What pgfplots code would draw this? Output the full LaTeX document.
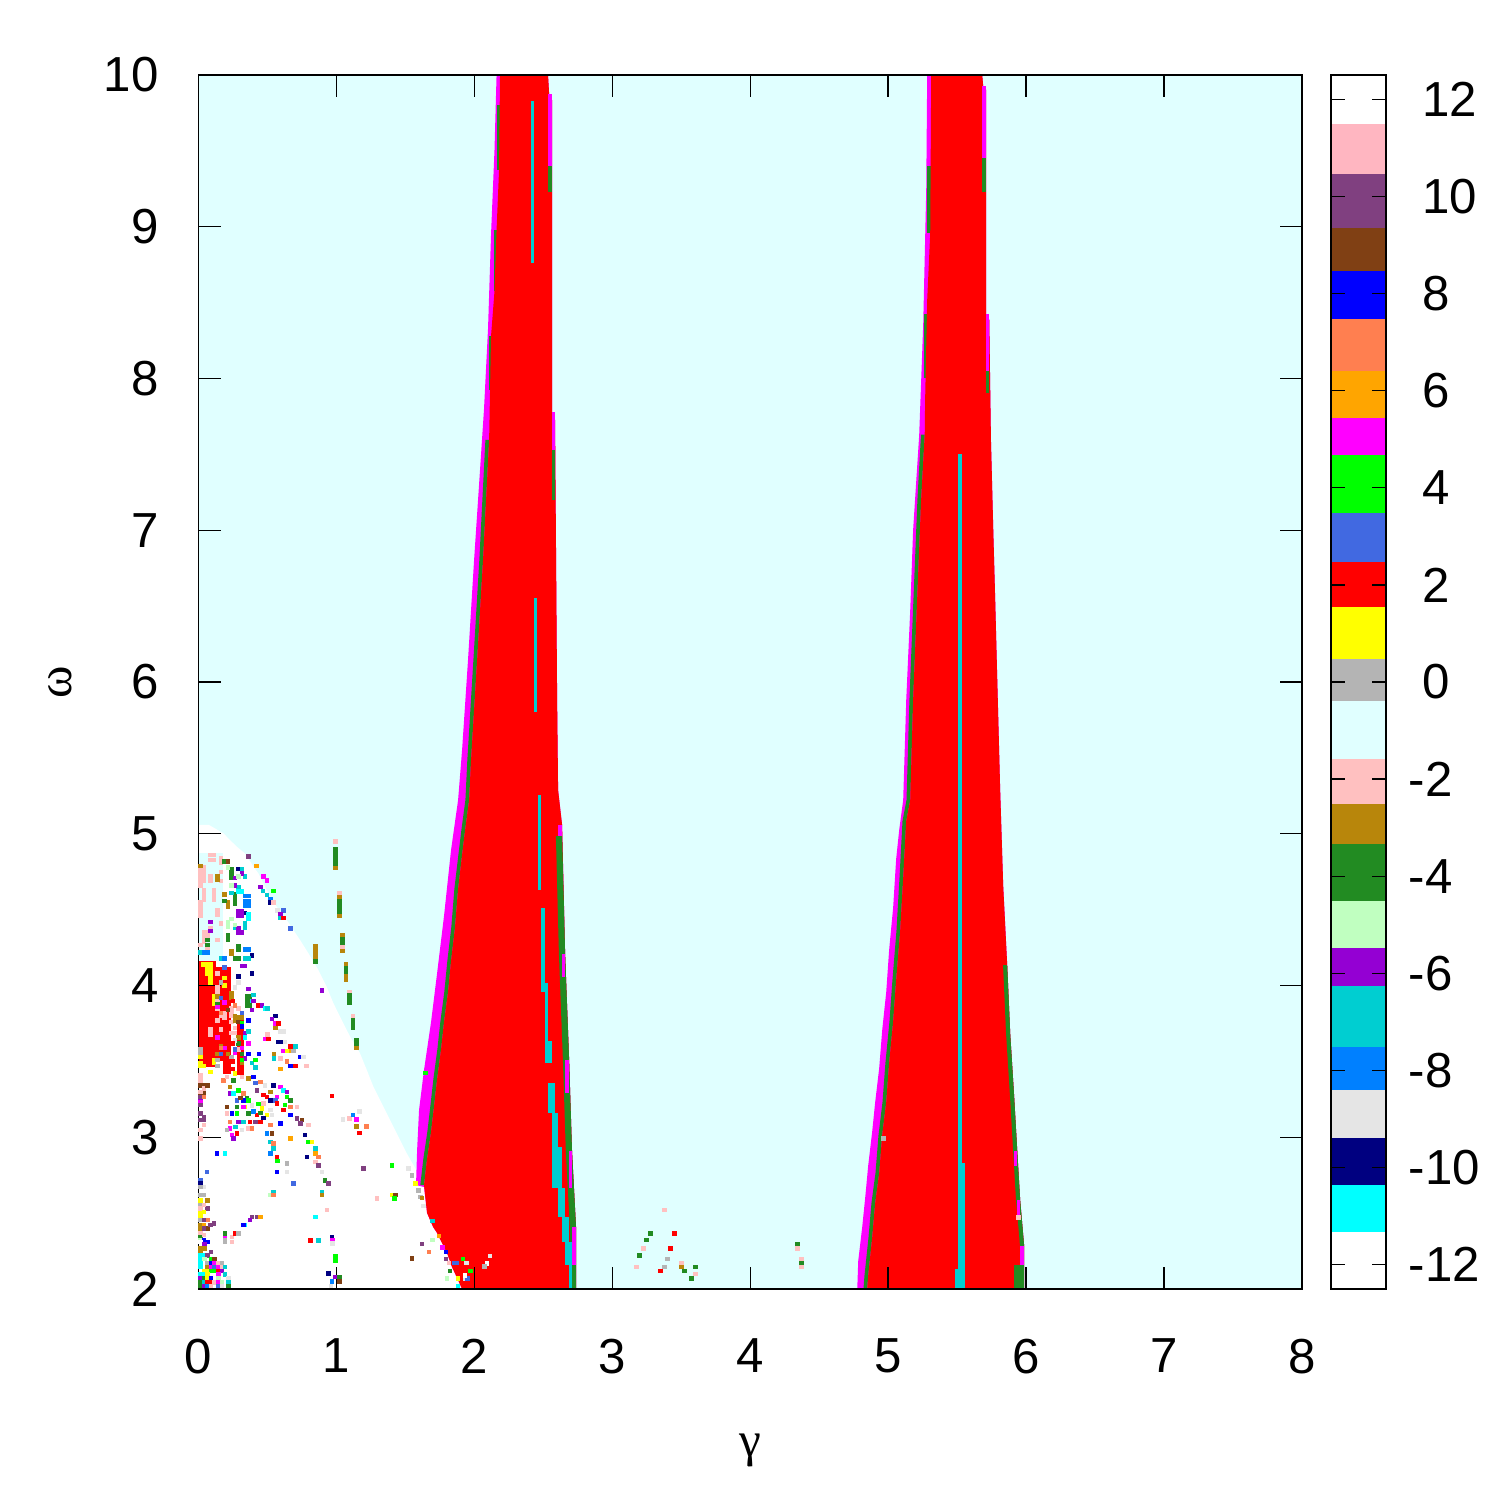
\documentclass[border=0pt]{standalone}
\usepackage{pgfplots}
\pgfplotsset{compat=1.18}
\usepackage{fontspec}
\setmainfont{Liberation Sans}
\newfontfamily\symfont{Liberation Serif}
\definecolor{cW}{HTML}{FFFFFF}
\definecolor{cP}{HTML}{FFB6C1}
\definecolor{cU}{HTML}{804080}
\definecolor{cB}{HTML}{804014}
\definecolor{cb}{HTML}{0000FF}
\definecolor{cK}{HTML}{FF7F50}
\definecolor{cO}{HTML}{FFA500}
\definecolor{cM}{HTML}{FF00FF}
\definecolor{cG}{HTML}{00FF00}
\definecolor{cR}{HTML}{4169E1}
\definecolor{cr}{HTML}{FF0000}
\definecolor{cY}{HTML}{FFFF00}
\definecolor{cg}{HTML}{B4B4B4}
\definecolor{cc}{HTML}{E0FFFF}
\definecolor{cp}{HTML}{FFC0C0}
\definecolor{cd}{HTML}{B8860B}
\definecolor{cf}{HTML}{228B22}
\definecolor{cl}{HTML}{C0FFC0}
\definecolor{cv}{HTML}{9400D3}
\definecolor{ct}{HTML}{00CED1}
\definecolor{cD}{HTML}{0080FF}
\definecolor{cL}{HTML}{E5E5E5}
\definecolor{cN}{HTML}{000080}
\definecolor{cC}{HTML}{00FFFF}
% rectangle through the axis: colour, x1, y1, x2, y2
\newcommand\rect[5]{\addplot[fill=#1,draw=none] coordinates {(#2,#3) (#4,#3) (#4,#5) (#2,#5)} -- cycle;}
\newcommand\cbar[3]{\addplot[fill=#1,draw=none] coordinates {(0,#2) (1,#2) (1,#3) (0,#3)} -- cycle;}
\newcommand\lbl{\fontsize{14pt}{16pt}\selectfont}
\begin{document}
\begin{tikzpicture}
\path[use as bounding box] (0,0) rectangle (15cm,15cm);
\begin{axis}[
  at={(1.985cm,2.11cm)}, anchor=south west,
  scale only axis, width=11.035cm, height=12.14cm,
  xmin=0, xmax=8, ymin=2, ymax=10,
  xtick={0,...,8}, xticklabels={0,1,2,3,4,5,6,7,8},
  ytick={2,...,10}, yticklabels={2,3,4,5,6,7,8,9,10},
  tick align=inside, major tick length=0.22cm,
  axis background/.style={fill=cc},
  axis on top,
  axis line style={line width=0.4pt},
  tick style={black, line width=0.4pt},
  xticklabel style={font=\lbl, yshift=-0.375cm},
  yticklabel style={font=\lbl, xshift=-0.276cm},
]
% white wedge
\addplot[fill=white,draw=none] coordinates {(0,2.0) (0,5.058) (0.076,5.058) (0.180,5.003) (0.228,4.959) (0.277,4.915) (0.337,4.871) (0.398,4.783) (0.434,4.739) (0.482,4.651) (0.531,4.563) (0.639,4.432) (0.736,4.300) (0.797,4.212) (0.869,4.102) (0.929,3.992) (0.978,3.883) (1.038,3.773) (1.099,3.663) (1.171,3.553) (1.220,3.443) (1.268,3.333) (1.328,3.224) (1.389,3.114) (1.449,3.004) (1.510,2.894) (1.60,2.75) (1.75,2.40) (1.95,2.0)} -- cycle;
\rect{cc}{0}{4.16}{0.175}{4.87}
% red block lower left
\rect{cr}{0}{3.46}{0.125}{4.16}
\rect{cr}{0.125}{3.50}{0.18}{4.12}
\rect{cr}{0.18}{3.42}{0.235}{4.12}
\rect{cr}{0.277}{3.41}{0.33}{3.78}
% ---------- band 1 ----------
\addplot[fill=cM,draw=none] coordinates {(2.161,10) (2.146,9.506) (2.121,8.952) (2.099,8.326) (2.070,7.799) (2.041,7.397) (1.998,6.804) (1.954,6.145) (1.911,5.552) (1.882,5.222) (1.831,4.893) (1.780,4.458) (1.730,4.082) (1.686,3.759) (1.635,3.443) (1.599,3.180) (1.585,2.916) (1.577,2.685) (1.635,2.672) (1.657,2.501) (1.701,2.409) (1.730,2.369) (1.766,2.303) (1.802,2.237) (1.838,2.145) (1.882,2.059) (1.911,2.0) (2.737,2.0) (2.737,2.409) (2.708,2.909) (2.687,3.509) (2.658,4.208) (2.636,5.058) (2.607,5.288) (2.600,5.881) (2.585,7.727) (2.563,7.779) (2.563,9.835) (2.542,9.875) (2.534,10)} -- cycle;
\addplot[fill=cf,draw=none] coordinates {(2.080,7.595) (2.036,6.804) (1.993,6.145) (1.949,5.486) (1.935,5.222) (1.906,5.025) (1.884,4.860) (1.855,4.636) (1.833,4.386) (1.804,4.161) (1.782,3.957) (1.753,3.759) (1.732,3.582) (1.703,3.384) (1.681,3.206) (1.659,3.035) (1.630,2.857) (1.608,2.685) (1.635,2.685) (1.657,2.857) (1.686,3.035) (1.708,3.206) (1.730,3.384) (1.759,3.582) (1.780,3.759) (1.809,3.957) (1.831,4.161) (1.860,4.386) (1.882,4.636) (1.911,4.860) (1.933,5.025) (1.962,5.222) (1.976,5.486) (2.020,6.145) (2.063,6.804) (2.107,7.595)} -- cycle;
\rect{cf}{2.161}{9.374}{2.186}{9.802}
\rect{cf}{2.139}{8.577}{2.161}{8.979}
\rect{cf}{2.107}{7.924}{2.139}{8.280}
\addplot[fill=cr,draw=none] coordinates {(2.186,10) (2.179,9.374) (2.161,8.979) (2.146,8.577) (2.121,8.280) (2.107,7.595) (2.063,6.804) (2.020,6.145) (1.976,5.486) (1.962,5.222) (1.933,5.025) (1.911,4.860) (1.882,4.636) (1.860,4.386) (1.831,4.161) (1.809,3.957) (1.780,3.759) (1.759,3.582) (1.730,3.384) (1.708,3.206) (1.686,3.035) (1.657,2.857) (1.635,2.685) (1.657,2.501) (1.701,2.409) (1.730,2.369) (1.766,2.303) (1.802,2.237) (1.838,2.145) (1.882,2.059) (1.911,2.0) (2.737,2.0) (2.737,2.409) (2.708,2.909) (2.687,3.509) (2.658,4.208) (2.636,5.058) (2.607,5.288) (2.600,5.881) (2.585,7.727) (2.563,7.779) (2.563,9.835) (2.542,9.875) (2.534,10)} -- cycle;
\rect{cM}{2.534}{9.400}{2.563}{9.875}
\rect{cf}{2.534}{9.229}{2.563}{9.400}
\rect{cM}{2.563}{7.529}{2.585}{7.779}
\rect{cf}{2.563}{7.200}{2.585}{7.529}
\addplot[fill=cf,draw=none] coordinates {(2.591,4.985) (2.613,4.208) (2.642,3.509) (2.663,2.909) (2.692,2.409) (2.692,2.0) (2.737,2.0) (2.737,2.409) (2.708,2.909) (2.687,3.509) (2.658,4.208) (2.636,4.985)} -- cycle;
\rect{cf}{2.607}{4.741}{2.636}{4.985}
\rect{cM}{2.607}{4.985}{2.636}{5.058}
\rect{cM}{2.636}{4.057}{2.658}{4.208}
\rect{cM}{2.658}{3.292}{2.687}{3.509}
\rect{cM}{2.687}{2.666}{2.708}{2.909}
\rect{cM}{2.708}{2.158}{2.737}{2.409}
% turquoise inside band 1
\rect{ct}{2.411}{8.761}{2.433}{9.829}
\rect{ct}{2.433}{5.802}{2.455}{6.554}
\rect{ct}{2.462}{4.629}{2.484}{5.255}
\rect{ct}{2.484}{3.957}{2.513}{4.511}
\rect{ct}{2.513}{3.634}{2.534}{4.016}
\rect{ct}{2.513}{3.489}{2.563}{3.634}
\rect{ct}{2.534}{3.160}{2.585}{3.357}
\rect{ct}{2.563}{2.666}{2.607}{3.160}
\rect{ct}{2.585}{2.666}{2.636}{2.936}
\rect{ct}{2.607}{2.474}{2.658}{2.666}
\rect{ct}{2.636}{2.310}{2.687}{2.474}
\rect{ct}{2.658}{2.158}{2.708}{2.310}
\rect{ct}{2.687}{2.0}{2.708}{2.158}
% ---------- band 2 ----------
\addplot[fill=cM,draw=none] coordinates {(5.283,10) (5.276,9.242) (5.254,8.353) (5.225,7.628) (5.181,7.002) (5.160,6.474) (5.131,5.881) (5.109,5.222) (5.080,5.025) (5.058,4.834) (5.036,4.511) (5.007,4.234) (4.986,3.957) (4.957,3.707) (4.935,3.456) (4.906,3.232) (4.884,3.035) (4.855,2.811) (4.834,2.606) (4.812,2.409) (4.783,2.185) (4.776,2.0) (5.986,2.0) (5.986,2.283) (5.957,2.586) (5.936,2.909) (5.914,3.259) (5.885,3.680) (5.863,4.135) (5.834,4.656) (5.812,5.288) (5.791,6.013) (5.776,6.540) (5.762,7.0) (5.745,7.6) (5.733,8.386) (5.711,8.425) (5.711,9.901) (5.689,9.927) (5.682,10)} -- cycle;
\addplot[fill=cf,draw=none] coordinates {(5.238,7.63) (5.212,7.199) (5.183,6.540) (5.154,5.881) (5.133,5.222) (5.104,5.084) (5.082,4.708) (5.060,4.359) (5.031,4.036) (5.009,3.759) (4.980,3.489) (4.959,3.232) (4.930,3.015) (4.908,2.764) (4.879,2.567) (4.857,2.336) (4.828,2.086) (4.821,2.0) (4.848,2.0) (4.855,2.086) (4.884,2.336) (4.906,2.567) (4.935,2.764) (4.957,3.015) (4.986,3.232) (5.007,3.489) (5.036,3.759) (5.058,4.036) (5.087,4.359) (5.109,4.708) (5.131,5.084) (5.160,5.222) (5.181,5.881) (5.210,6.540) (5.239,7.199) (5.265,7.63)} -- cycle;
\rect{cf}{5.283}{8.959}{5.312}{9.400}
\rect{cf}{5.261}{8.003}{5.283}{8.425}
\addplot[fill=cr,draw=none] coordinates {(5.312,10) (5.305,8.959) (5.283,8.517) (5.268,7.858) (5.265,7.63) (5.239,7.199) (5.210,6.540) (5.181,5.881) (5.160,5.222) (5.131,5.084) (5.109,4.708) (5.087,4.359) (5.058,4.036) (5.036,3.759) (5.007,3.489) (4.986,3.232) (4.957,3.015) (4.935,2.764) (4.906,2.567) (4.884,2.336) (4.855,2.086) (4.848,2.0) (5.986,2.0) (5.986,2.283) (5.957,2.586) (5.936,2.909) (5.914,3.259) (5.885,3.680) (5.863,4.135) (5.834,4.656) (5.812,5.288) (5.791,6.013) (5.776,6.540) (5.762,7.0) (5.745,7.6) (5.733,8.386) (5.711,8.425) (5.711,9.901) (5.689,9.927) (5.682,10)} -- cycle;
\rect{cM}{5.682}{9.453}{5.711}{9.927}
\rect{cf}{5.682}{9.229}{5.711}{9.453}
\rect{cM}{5.711}{8.049}{5.733}{8.425}
\rect{cf}{5.711}{7.904}{5.733}{8.049}
\addplot[fill=cf,draw=none] coordinates {(5.833,4.135) (5.855,3.680) (5.884,3.259) (5.906,2.909) (5.927,2.586) (5.956,2.283) (5.956,2.158) (5.914,2.158) (5.914,2.0) (5.986,2.0) (5.986,2.283) (5.957,2.586) (5.936,2.909) (5.914,3.259) (5.885,3.680) (5.863,4.135)} -- cycle;
\rect{cM}{5.914}{2.811}{5.936}{2.909}
\rect{cM}{5.936}{2.461}{5.957}{2.586}
\rect{cM}{5.957}{2.158}{5.986}{2.283}
\rect{ct}{5.508}{2.830}{5.537}{7.502}
\rect{ct}{5.508}{2.0}{5.559}{2.830}
\rect{ct}{5.486}{2.0}{5.508}{2.132}
% ---------- scattered cells ----------
\addplot[scatter, only marks, scatter src=explicit symbolic, mark size=0.5pt,
  mark options={line width=0.15pt},
  scatter/classes={W={mark=square*,cW}, P={mark=square*,cP}, U={mark=square*,cU}, B={mark=square*,cB}, b={mark=square*,cb}, K={mark=square*,cK}, O={mark=square*,cO}, M={mark=square*,cM}, G={mark=square*,cG}, R={mark=square*,cR}, r={mark=square*,cr}, Y={mark=square*,cY}, g={mark=square*,cg}, c={mark=square*,cc}, p={mark=square*,cp}, d={mark=square*,cd}, f={mark=square*,cf}, l={mark=square*,cl}, v={mark=square*,cv}, t={mark=square*,ct}, D={mark=square*,cD}, L={mark=square*,cL}, N={mark=square*,cN}, C={mark=square*,cC}}]
table[meta=c] {
x y c
0.012 4.78 p
0.012 4.75 p
0.012 4.72 p
0.012 4.69 p
0.012 4.66 p
0.012 4.55 p
0.012 4.52 p
0.012 4.49 p
0.012 4.46 p
0.037 4.78 p
0.037 4.75 p
0.037 4.72 p
0.037 4.69 p
0.037 4.63 p
0.037 4.60 p
0.037 4.57 p
0.037 4.35 p
0.037 4.32 p
0.037 4.29 p
0.062 4.35 p
0.062 4.32 p
0.087 4.86 p
0.087 4.83 p
0.087 4.72 p
0.087 4.69 p
0.112 4.86 p
0.112 4.83 p
0.112 4.63 p
0.112 4.60 p
0.112 4.57 p
0.137 4.50 p
0.137 4.47 p
0.162 4.75 p
0.162 4.69 p
0.162 4.41 p
0.137 4.30 p
0.087 4.38 p
0.062 4.24 p
0.012 4.27 p
0.162 4.84 p
0.162 4.81 p
0.012 4.79 d
0.137 4.72 d
0.137 4.70 d
0.187 4.60 d
0.212 4.55 d
0.212 4.52 d
0.237 4.23 d
0.237 4.21 d
0.187 4.82 f
0.237 4.77 f
0.237 4.74 f
0.237 4.71 f
0.062 4.30 f
0.062 4.27 f
0.187 4.56 f
0.262 4.60 f
0.262 4.57 f
0.262 4.54 f
0.212 4.33 f
0.212 4.30 f
0.287 4.26 f
0.287 4.24 f
0.262 4.18 f
0.287 4.18 f
0.212 4.82 B
0.287 4.77 N
0.337 4.48 N
0.387 4.20 N
0.387 4.08 N
0.287 4.06 N
0.312 4.77 t
0.337 4.72 t
0.237 4.61 t
0.287 4.65 t
0.337 4.41 t
0.337 4.38 t
0.012 4.22 t
0.162 4.18 t
0.337 4.18 t
0.362 4.18 t
0.262 4.38 t
0.262 4.71 v
0.312 4.74 v
0.262 4.66 v
0.287 4.49 v
0.312 4.49 v
0.287 4.46 v
0.312 4.46 v
0.287 4.38 v
0.287 4.35 v
0.312 4.35 v
0.087 4.42 v
0.087 4.36 v
0.312 4.13 v
0.337 4.13 v
0.212 4.78 l
0.287 4.72 l
0.237 4.66 l
0.212 4.42 l
0.212 4.39 l
0.237 4.44 l
0.262 4.40 l
0.337 4.59 D
0.362 4.59 D
0.337 4.56 D
0.362 4.56 D
0.337 4.53 D
0.362 4.53 D
0.337 4.24 D
0.362 4.24 D
0.037 4.22 D
0.062 4.22 D
0.187 4.18 D
0.287 4.62 C
0.312 4.62 C
0.362 4.47 C
0.362 4.44 C
0.187 4.12 R
0.361 4.85 U
0.417 4.79 O
0.470 4.72 M
0.494 4.695 M
0.446 4.65 v
0.465 4.625 t
0.543 4.625 G
0.494 4.597 t
0.519 4.57 D
0.519 4.55 N
0.543 4.55 p
0.572 4.497 L
0.615 4.497 R
0.591 4.47 v
0.591 4.447 t
0.615 4.447 r
0.664 4.377 R
0.893 3.97 v
0.035 4.14 Y
0.06 4.14 Y
0.085 4.14 Y
0.06 4.11 Y
0.085 4.11 Y
0.06 4.08 Y
0.085 4.08 Y
0.085 4.05 Y
0.085 4.02 Y
0.11 3.93 Y
0.11 3.90 Y
0.11 3.88 Y
0.012 3.49 Y
0.012 3.47 Y
0.037 3.47 Y
0.11 3.51 Y
0.11 3.49 Y
0.187 4.05 Y
0.187 4.00 Y
0.262 3.42 Y
0.087 3.43 Y
0.012 3.53 Y
0.012 3.58 g
0.012 3.56 g
0.137 3.47 g
0.137 3.51 g
0.237 3.53 g
0.162 4.02 g
0.137 4.08 p
0.137 3.99 p
0.137 3.96 p
0.137 3.90 p
0.137 3.85 p
0.162 3.80 p
0.137 3.77 p
0.162 3.71 p
0.187 3.82 p
0.187 3.79 p
0.237 3.85 p
0.237 3.82 p
0.237 3.80 p
0.237 3.76 p
0.237 3.69 p
0.262 3.72 p
0.262 3.69 p
0.287 3.85 p
0.287 3.58 p
0.087 3.71 p
0.087 3.68 p
0.012 3.37 p
0.012 3.41 p
0.137 3.93 d
0.237 3.95 d
0.237 3.92 d
0.262 3.80 d
0.287 3.79 d
0.312 3.79 d
0.262 3.77 d
0.162 3.60 d
0.212 3.55 d
0.287 3.66 d
0.312 3.49 d
0.137 3.55 d
0.349 3.93 f
0.373 3.93 f
0.349 3.90 f
0.373 3.90 f
0.349 3.87 f
0.373 3.87 f
0.287 3.62 f
0.312 3.55 f
0.137 3.88 f
0.187 3.89 M
0.137 3.86 M
0.137 3.66 M
0.187 3.59 M
0.312 3.59 M
0.262 3.56 M
0.362 3.62 M
0.162 3.82 K
0.162 3.59 K
0.262 3.87 K
0.162 3.92 R
0.262 3.58 R
0.162 3.55 R
0.312 3.82 R
0.262 3.99 L
0.287 4.02 L
0.262 3.64 L
0.212 3.84 B
0.287 3.76 B
0.012 3.29 B
0.037 3.29 B
0.362 3.98 v
0.387 3.84 v
0.337 3.69 v
0.337 3.52 v
0.012 3.26 v
0.398 3.94 t
0.362 3.70 t
0.387 3.49 t
0.412 3.46 t
0.387 3.90 C
0.337 3.66 C
0.312 3.75 G
0.412 3.51 G
0.312 3.51 G
0.362 3.77 b
0.312 3.73 b
0.437 3.55 b
0.362 3.55 b
0.25 3.90 r
0.25 3.62 r
0.25 3.50 r
0.25 3.45 r
0.398 3.90 v
0.434 3.87 r
0.458 3.87 v
0.482 3.85 C
0.50 3.85 t
0.555 3.80 N
0.531 3.78 v
0.555 3.75 M
0.579 3.75 r
0.555 3.72 d
0.591 3.70 L
0.615 3.70 L
0.50 3.68 p
0.482 3.65 M
0.506 3.65 r
0.579 3.63 N
0.603 3.63 N
0.627 3.63 L
0.700 3.60 t
0.664 3.60 r
0.664 3.57 O
0.615 3.57 M
0.688 3.57 g
0.640 3.57 Y
0.736 3.53 b
0.76 3.53 L
0.78 3.47 p
0.70 3.47 r
0.664 3.47 b
0.591 3.45 O
0.544 3.55 d
0.544 3.52 t
0.591 3.52 p
0.640 3.50 K
0.180 3.377 K
0.253 3.377 f
0.313 3.399 p
0.361 3.388 d
0.398 3.399 b
0.446 3.366 K
0.482 3.344 L
0.543 3.344 N
0.591 3.333 M
0.615 3.311 C
0.639 3.300 v
0.519 3.300 d
0.494 3.267 r
0.567 3.267 M
0.639 3.267 G
0.664 3.245 f
0.519 3.245 N
0.555 3.245 R
0.228 3.333 d
0.289 3.311 G
0.325 3.289 K
0.349 3.256 f
0.277 3.245 R
0.325 3.245 b
0.361 3.245 G
0.422 3.311 U
0.470 3.224 p
0.567 3.224 r
0.627 3.213 G
0.664 3.202 K
0.712 3.202 p
0.204 3.202 B
0.277 3.202 f
0.337 3.202 Y
0.458 3.191 Y
0.519 3.180 L
0.615 3.180 r
0.204 3.158 p
0.240 3.158 b
0.277 3.158 G
0.361 3.158 f
0.422 3.147 r
0.494 3.147 Y
0.531 3.147 L
0.664 3.147 b
0.712 3.125 U
0.748 3.114 B
0.228 3.103 K
0.289 3.103 v
0.325 3.103 t
0.373 3.103 r
0.410 3.103 U
0.446 3.103 r
0.519 3.081 K
0.591 3.092 b
0.736 3.092 U
0.797 3.081 p
0.772 3.015 N
0.494 3.026 D
0.531 3.026 B
0.664 2.993 O
0.519 2.971 t
0.240 3.015 M
0.277 3.026 r
0.253 2.993 v
0.797 2.971 G
0.821 2.971 Y
0.845 2.927 t
0.845 2.894 O
0.543 2.927 t
0.567 2.872 r
0.572 2.846 G
0.784 2.872 N
0.869 2.872 K
0.639 2.828 g
0.845 2.839 p
0.869 2.817 U
1.401 2.817 G
1.195 2.795 U
1.522 2.795 L
1.546 2.751 g
0.567 2.773 b
0.639 2.773 L
0.893 2.773 L
0.059 2.773 R
0.688 2.696 R
0.917 2.718 f
0.942 2.696 U
0.893 2.641 t
0.893 2.620 d
0.543 2.641 t
0.519 2.620 l
0.543 2.620 K
1.292 2.597 p
1.401 2.620 Y
1.425 2.620 B
1.418 2.597 G
1.606 2.608 g
0.929 2.521 p
0.422 2.477 U
0.386 2.477 U
0.446 2.477 O
0.373 2.455 v
0.337 2.422 C
0.325 2.422 b
0.845 2.477 C
0.809 2.323 r
0.869 2.323 t
0.966 2.345 N
0.966 2.323 M
0.966 2.297 L
0.990 2.213 G
0.990 2.191 G
1.546 2.202 B
0.942 2.103 N
0.192 2.345 M
0.240 2.345 p
0.192 2.323 g
0.265 2.367 r
0.289 2.367 g
0.192 2.367 f
0.132 2.894 b
0.192 2.894 C
0.519 2.894 D
0.543 2.960 K
0.966 3.272 r
1.094 3.125 p
1.166 3.03 r
1.166 3.17 L
1.118 3.147 D
1.142 3.12 M
1.142 3.074 d
1.215 3.074 K
1.045 3.12 L
0.204 3.40 p
0.228 3.29 v
0.253 3.29 C
0.301 3.26 B
0.325 3.20 M
0.386 3.21 L
0.398 3.17 D
0.446 3.16 f
0.470 3.13 N
0.361 3.06 p
0.386 3.06 K
0.313 3.05 L
0.265 3.07 t
0.228 3.06 M
0.204 3.05 g
0.470 3.28 r
0.434 3.22 G
0.410 3.36 R
0.062 2.586 d
0.062 2.532 U
0.037 2.620 g
0.037 2.674 L
0.062 2.455 K
0.062 2.400 B
0.087 2.422 U
0.112 2.433 U
0.012 3.399 p
0.012 3.344 B
0.012 3.300 p
0.012 3.267 U
0.012 3.235 M
0.012 3.213 U
0.012 3.158 U
0.012 3.114 U
0.012 3.048 p
0.012 2.993 p
0.012 2.718 R
0.012 2.696 N
0.012 2.674 g
0.012 2.620 g
0.012 2.586 Y
0.012 2.554 g
0.012 2.532 p
0.012 2.499 Y
0.012 2.477 Y
0.012 2.455 g
0.012 2.422 d
0.012 2.400 d
0.012 2.367 p
0.012 2.345 f
0.012 2.323 l
0.037 3.344 B
0.037 3.322 p
0.037 3.267 K
0.037 3.136 U
0.037 3.114 U
0.037 3.081 p
0.037 2.554 p
0.037 2.510 Y
0.037 2.455 U
0.037 2.422 O
0.037 2.400 U
0.037 2.356 p
0.037 2.323 b
0.062 3.344 B
0.011 2.312 W
0.064 2.312 b
0.192 2.312 g
0.240 2.312 p
0.040 2.297 v
0.011 2.268 d
0.040 2.268 d
0.088 2.246 U
0.011 2.246 d
0.011 2.224 C
0.040 2.224 C
0.064 2.224 U
0.011 2.198 C
0.040 2.198 l
0.088 2.198 G
0.115 2.198 B
0.011 2.174 C
0.064 2.174 g
0.088 2.174 b
0.115 2.174 M
0.144 2.174 p
0.168 2.174 g
0.011 2.147 C
0.064 2.147 d
0.088 2.147 M
0.115 2.147 R
0.144 2.147 M
0.168 2.147 p
0.192 2.147 t
0.040 2.121 Y
0.064 2.121 Y
0.088 2.121 G
0.115 2.121 G
0.144 2.121 r
0.168 2.121 v
0.011 2.097 C
0.040 2.097 C
0.064 2.097 Y
0.144 2.097 M
0.192 2.097 t
0.011 2.072 v
0.040 2.072 f
0.064 2.072 Y
0.088 2.072 b
0.144 2.072 l
0.216 2.072 L
0.011 2.046 f
0.040 2.046 t
0.064 2.046 r
0.088 2.046 r
0.115 2.046 p
0.144 2.046 M
0.168 2.046 l
0.216 2.046 t
0.011 2.020 f
0.040 2.020 v
0.064 2.020 D
0.088 2.020 p
0.144 2.020 R
0.216 2.020 f
0.168 2.020 L
0.94 2.10 N
0.966 2.05 D
0.99 2.08 v
1.02 2.08 f
1.02 2.05 B
0.96 2.02 L
0.99 2.20 G
0.99 2.22 G
0.81 2.32 r
0.87 2.32 t
0.97 2.32 M
0.97 2.30 L
0.845 4.26 d
0.845 4.24 d
0.845 4.21 d
0.845 4.19 d
0.845 4.16 f
0.99 4.95 p
0.99 4.90 f
0.99 4.875 f
0.99 4.85 f
0.99 4.825 f
0.99 4.80 f
0.99 4.775 d
1.019 4.61 p
1.019 4.585 d
1.019 4.56 f
1.019 4.535 f
1.019 4.51 f
1.019 4.485 f
1.019 4.46 d
1.043 4.33 d
1.043 4.305 f
1.043 4.28 f
1.043 4.255 p
1.043 4.23 d
1.067 4.14 d
1.067 4.115 f
1.067 4.09 f
1.067 4.065 d
1.067 4.04 d
1.094 3.96 p
1.094 3.935 f
1.094 3.91 f
1.094 3.885 f
1.118 3.80 p
1.118 3.775 f
1.118 3.75 f
1.118 3.725 f
1.142 3.64 f
1.142 3.615 f
1.142 3.59 d
1.570 2.697 Y
1.594 2.649 g
1.618 2.60 d
1.630 2.548 L
1.695 2.451 t
1.743 2.35 O
1.695 2.323 l
1.618 2.297 U
1.671 2.246 K
1.767 2.275 M
1.791 2.246 b
1.791 2.198 U
1.546 2.198 B
1.816 2.174 p
1.849 2.174 R
1.870 2.174 R
1.917 2.198 G
1.941 2.174 L
2.11 2.22 L
2.09 2.17 W
2.07 2.15 g
1.823 2.12 f
1.97 2.12 G
1.80 2.07 l
1.88 2.07 Y
1.93 2.07 L
1.95 2.07 R
1.93 2.09 W
1.88 2.02 C
1.643 3.425 G
3.376 2.521 p
3.274 2.369 f
3.448 2.369 r
3.245 2.323 f
3.223 2.270 p
3.419 2.270 r
3.194 2.224 f
3.397 2.198 g
3.499 2.171 p
3.173 2.145 p
3.376 2.145 g
3.499 2.145 d
3.600 2.145 f
3.347 2.119 r
3.521 2.119 f
3.600 2.099 p
3.571 2.072 f
4.340 2.297 f
4.340 2.270 p
4.369 2.198 p
4.369 2.171 f
4.369 2.145 p
4.964 2.995 g
5.943 2.474 p
};
\end{axis}
% colour box
\begin{axis}[
  at={(13.31cm,2.11cm)}, anchor=south west,
  scale only axis, width=0.55cm, height=12.14cm,
  xmin=0, xmax=1, ymin=-12.5, ymax=12.5,
  xtick=\empty,
  ytick={-12,-10,...,12},
  yticklabels={-12,-10,-8,-6,-4,-2,{\kern0.278em 0},{\kern0.278em 2},{\kern0.278em 4},{\kern0.278em 6},{\kern0.278em 8},{\kern0.278em 10},{\kern0.278em 12}},
  yticklabel pos=right, ytick pos=both,
  tick align=inside, major tick length=0.14cm,
  axis on top,
  axis line style={line width=0.4pt},
  tick style={black, line width=0.4pt},
  yticklabel style={font=\lbl, anchor=west, xshift=0.105cm},
]
\cbar{cC}{-11.33}{-10.36}
\cbar{cN}{-10.36}{-9.40}
\cbar{cL}{-9.40}{-8.40}
\cbar{cD}{-8.40}{-7.52}
\cbar{ct}{-7.52}{-6.26}
\cbar{cv}{-6.26}{-5.48}
\cbar{cl}{-5.48}{-4.52}
\cbar{cf}{-4.52}{-3.34}
\cbar{cd}{-3.34}{-2.52}
\cbar{cp}{-2.52}{-1.58}
\cbar{cc}{-1.58}{-0.40}
\cbar{cg}{-0.40}{0.48}
\cbar{cY}{0.48}{1.54}
\cbar{cr}{1.54}{2.47}
\cbar{cR}{2.47}{3.47}
\cbar{cG}{3.47}{4.67}
\cbar{cM}{4.67}{5.44}
\cbar{cO}{5.44}{6.41}
\cbar{cK}{6.41}{7.48}
\cbar{cb}{7.48}{8.47}
\cbar{cB}{8.47}{9.35}
\cbar{cU}{9.35}{10.47}
\cbar{cP}{10.47}{11.49}
\end{axis}
\node[font=\lbl] at (7.5025cm,0.5cm) {\symfont γ};
\node[font=\lbl, rotate=90] at (0.605cm,8.18cm) {\symfont ω};
\end{tikzpicture}
\end{document}
